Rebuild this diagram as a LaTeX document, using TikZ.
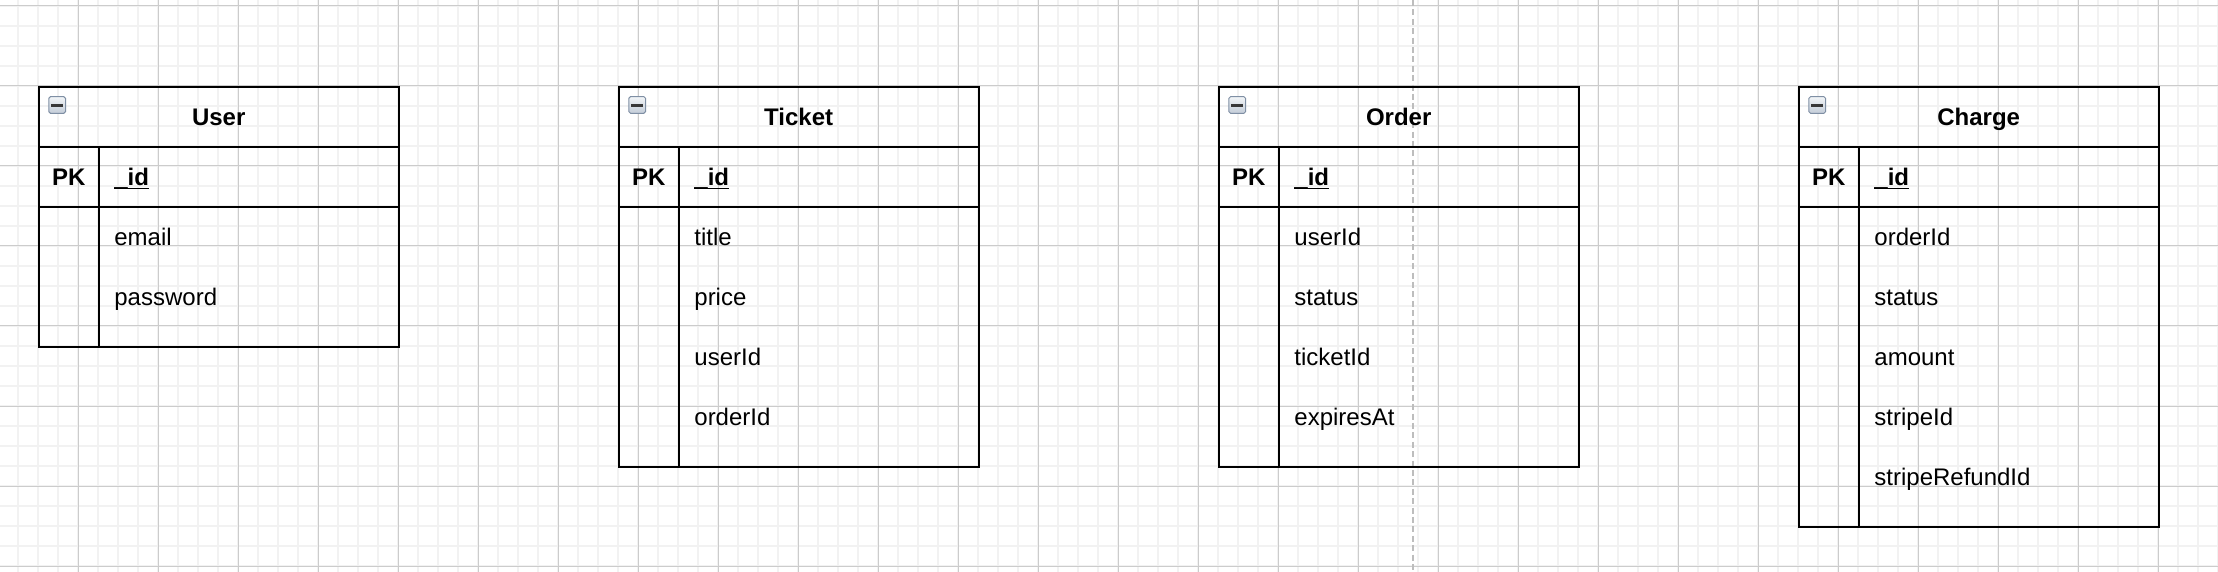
\documentclass[tikz,border=0pt]{standalone}
\usepackage{fontspec}
\setmainfont{Liberation Sans}
\definecolor{minorgrid}{HTML}{F2F2F2}
\definecolor{majorgrid}{HTML}{CCCCCC}
\definecolor{guidecol}{HTML}{BDBDBD}
\definecolor{btntop}{HTML}{F2F5F8}
\definecolor{btnbot}{HTML}{C3CCD7}
\definecolor{btnedge}{HTML}{7F8FA4}
\definecolor{btnbar}{HTML}{383838}
\tikzset{
  minorline/.style={draw=minorgrid, line width=1pt},
  majorline/.style={draw=majorgrid, line width=0.5pt},
  guideline/.style={draw=guidecol, line width=1pt, dash pattern=on 3pt off 1.7pt},
  tbl/.style={draw=black, line width=1.05pt},
  titletext/.style={font=\bfseries\fontsize{12}{14}\selectfont, inner sep=0pt, anchor=base},
  pktext/.style={font=\bfseries\fontsize{12}{14}\selectfont, inner sep=0pt, anchor=base},
  idtext/.style={font=\bfseries\fontsize{12}{14}\selectfont, inner sep=0pt, anchor=base west},
  fldtext/.style={font=\fontsize{12}{14}\selectfont, inner sep=0pt, anchor=base west},
  btnbox/.style={draw=btnedge, line width=0.5pt, rounded corners=0.8pt, top color=btntop, bottom color=btnbot, minimum width=8.3pt, minimum height=8.3pt, inner sep=0pt},
}
\newcommand{\ertable}[4]{% #1 name, #2 left x, #3 title, #4 fields
  \begin{scope}[shift={(#2,86.7)}]
    \foreach \f [count=\n] in {#4} {\xdef\ernf{\n}}
    \pgfmathsetmacro\erH{140+60*\ernf}
    \draw[tbl] (0,0) rectangle (360,\erH);
    \draw[tbl] (0,60) -- (360,60);
    \draw[tbl] (0,120) -- (360,120);
    \draw[tbl] (60,60) -- (60,\erH);
    \node[btnbox] (#1-btn) at (18.5,18.3) {};
    \fill[btnbar] (12.3,16.9) rectangle (24.7,19.9);
    \node[titletext] (#1-title) at (180,39.0) {#3};
    \node[pktext] (#1-pk) at (30,99.3) {PK};
    \node[idtext] (#1-id) at (75.3,99.3) {\_id};
    \draw[line width=0.75pt] ([yshift=-1.3pt]#1-id.base west) -- ([yshift=-1.3pt]#1-id.base east);
    \foreach \f [count=\i] in {#4} {
      \pgfmathsetmacro\erY{60*\i+98.8}
      \node[fldtext] (#1-f\i) at (75.3,\erY) {\f};
    }
  \end{scope}}
\begin{document}
\begin{tikzpicture}[x=0.5pt,y=-0.5pt]
  \useasboundingbox (0,0) rectangle (2218,572);
  \fill[white] (0,0) rectangle (2218,572);
  \foreach \x in {18,38,...,2218} \draw[minorline] (\x,0) -- (\x,572);
  \foreach \y in {6,26,...,572} \draw[minorline] (0,\y) -- (2218,\y);
  \foreach \x in {78,158,...,2218} \draw[majorline] (\x,0) -- (\x,572);
  \foreach \y in {6,86,...,572} \draw[majorline] (0,\y) -- (2218,\y);
  \coordinate (guidetop) at (1412.7,0);
  \coordinate (guidebot) at (1412.7,572);
  \draw[guideline] (guidetop) -- (guidebot);
  \ertable{user}{38.7}{User}{email,password}
  \ertable{ticket}{618.7}{Ticket}{title,price,userId,orderId}
  \ertable{order}{1218.7}{Order}{userId,status,ticketId,expiresAt}
  \ertable{charge}{1798.7}{Charge}{orderId,status,amount,stripeId,stripeRefundId}
\end{tikzpicture}
\end{document}
